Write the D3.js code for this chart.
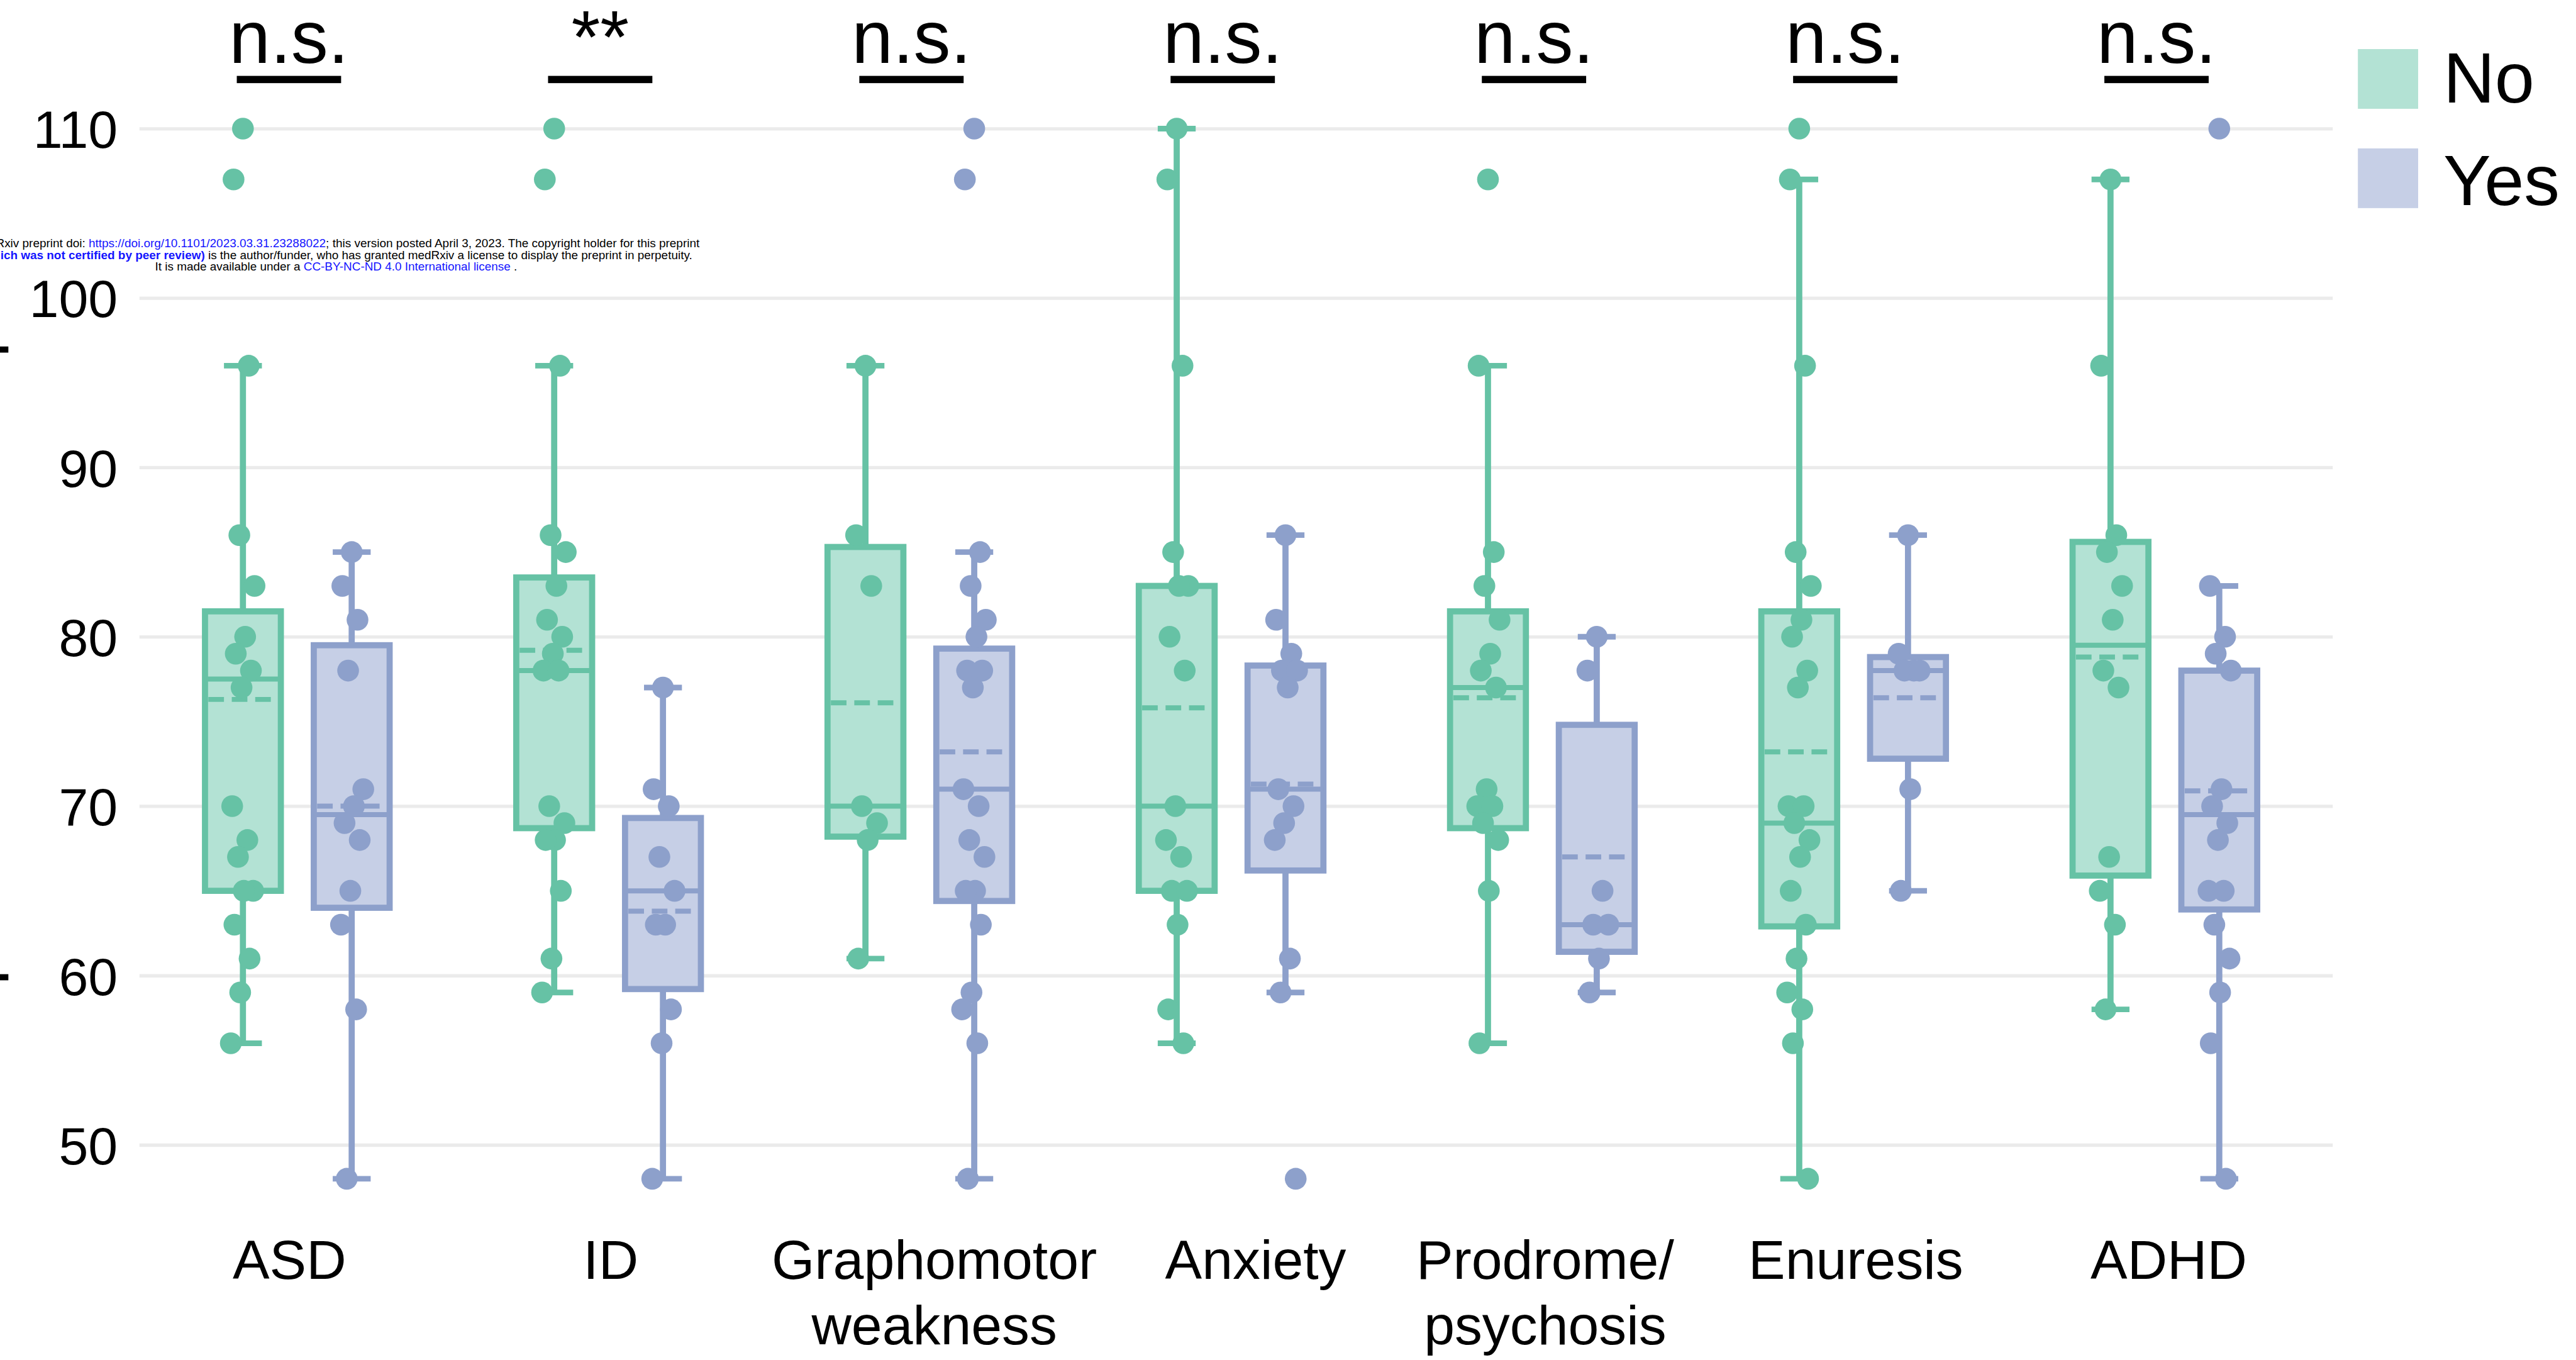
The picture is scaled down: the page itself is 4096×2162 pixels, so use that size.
<!DOCTYPE html>
<html>
<head>
<meta charset="utf-8">
<script src="https://cdn.jsdelivr.net/npm/d3@7"></script>
<style>
  html, body { margin: 0; padding: 0; background: #ffffff; }
  svg { display: block; }
  text { font-family: "Liberation Sans", Arial, Helvetica, sans-serif; }
</style>
</head>
<body>
<script>
// ---- data ----
const categories = ["ASD", "ID", "Graphomotor weakness", "Anxiety", "Prodrome/ psychosis", "Enuresis", "ADHD"];
const categoryLines = [["ASD"], ["ID"], ["Graphomotor", "weakness"], ["Anxiety"], ["Prodrome/", "psychosis"], ["Enuresis"], ["ADHD"]];
const groups = ["No", "Yes"];
const significance = ["n.s.", "**", "n.s.", "n.s.", "n.s.", "n.s.", "n.s."];
const yTicks = [50, 60, 70, 80, 90, 100, 110];

// box statistics per category (No group)
const noLower  = [56, 59, 61, 56, 56, 48, 58];
const noQ1     = [65, 68.7, 68.2, 65, 68.7, 62.9, 65.9];
const noMedian = [77.5, 78, 70, 70, 77, 69, 79.5];
const noQ3     = [81.5, 83.5, 85.3, 83, 81.5, 81.5, 85.6];
const noUpper  = [96, 96, 96, 110, 96, 107, 107];
const noMean   = [76.3, 79.2, 76.1, 75.8, 76.4, 73.2, 78.8];

// box statistics per category (Yes group)
const yesLower  = [48, 48, 48, 59, 59, 65, 48];
const yesQ1     = [64, 59.2, 64.4, 66.2, 61.4, 72.8, 63.9];
const yesMedian = [69.5, 65, 71, 71, 63, 78, 69.5];
const yesQ3     = [79.5, 69.3, 79.3, 78.3, 74.8, 78.8, 78];
const yesUpper  = [85, 77, 85, 86, 80, 86, 83];
const yesMean   = [70, 63.8, 73.2, 71.3, 67, 76.4, 70.9];

// individual scores per category
const noPoints = [
  [110, 107, 96, 86, 83, 80, 79, 78, 77, 70, 68, 67, 65, 65, 63, 61, 59, 56],
  [110, 107, 96, 86, 85, 83, 81, 80, 79, 78, 78, 70, 69, 68, 68, 65, 61, 59],
  [96, 86, 83, 70, 69, 68, 61],
  [110, 107, 96, 85, 83, 83, 80, 78, 70, 68, 67, 65, 65, 63, 58, 56],
  [107, 96, 85, 83, 81, 79, 78, 77, 71, 70, 70, 69, 68, 65, 56],
  [110, 107, 96, 85, 83, 81, 80, 78, 77, 70, 70, 69, 68, 67, 65, 63, 61, 59, 58, 56, 48],
  [107, 96, 86, 85, 83, 81, 78, 77, 67, 65, 63, 58]
];
const yesPoints = [
  [85, 83, 81, 78, 71, 70, 69, 68, 65, 63, 58, 48],
  [77, 71, 70, 67, 65, 63, 63, 58, 56, 48],
  [110, 107, 85, 83, 81, 80, 78, 78, 77, 71, 70, 68, 67, 65, 65, 63, 59, 58, 56, 48],
  [86, 81, 79, 78, 78, 77, 71, 70, 69, 68, 61, 59, 48],
  [80, 78, 65, 63, 63, 61, 59],
  [86, 79, 78, 78, 78, 71, 65],
  [110, 83, 80, 79, 78, 71, 70, 69, 68, 65, 65, 63, 61, 59, 56, 48]
];

// ---- layout (drawn in a 4618 x 2438 frame, scaled to the window) ----
const W = 4096, H = 2162;
const FW = 4618, FH = 2438;
const k = W / FW;

const lineColor = { No: "#66c2a5", Yes: "#8da0cb" };
const fillColor = { No: "#b3e2d4", Yes: "#c6cfe6" };
const labelNudge = [-14, 4, 26, 44, 5, 4, 7];

const svg = d3.select("body").append("svg")
  .attr("width", W).attr("height", H)
  .attr("viewBox", `0 0 ${W} ${H}`);
const root = svg.append("g").attr("transform", `scale(${k})`);

const y = d3.scaleLinear().domain([50, 110]).range([2052, 230.5]);
const x = d3.scalePoint().domain(categories).range([533, 3881]);
const xg = d3.scalePoint().domain(groups).range([-97.5, 97.5]);

const plotLeft = 250, plotRight = 4182;

// gridlines
const grid = root.append("g").attr("transform", `translate(${plotLeft},0)`)
  .call(d3.axisRight(y).tickValues(yTicks).tickSize(plotRight - plotLeft).tickFormat(""));
grid.select(".domain").remove();
grid.selectAll(".tick line").attr("stroke", "#ebebeb").attr("stroke-width", 6);

// y tick labels
const yAxis = root.append("g").attr("transform", `translate(${plotLeft},0)`)
  .call(d3.axisLeft(y).tickValues(yTicks).tickSize(0).tickPadding(39));
yAxis.select(".domain").remove();
yAxis.selectAll(".tick text")
  .attr("font-size", 95)
  .attr("dy", "0.36em")
  .attr("fill", "#000")
  .style("font-family", "'Liberation Sans', Arial, Helvetica, sans-serif");

// page margin marks on the left edge
root.append("rect").attr("x", 0).attr("y", 621).attr("width", 15).attr("height", 11).attr("fill", "#000");
root.append("rect").attr("x", 0).attr("y", 1746).attr("width", 15).attr("height", 11).attr("fill", "#000");

// preprint stamp
const stamp = root.append("g").attr("font-size", 21).attr("text-anchor", "middle");
const stampLines = [
  { y: 443, len: 1303, parts: [
    { t: "medRxiv preprint doi: ", c: "#000" },
    { t: "https://doi.org/10.1101/2023.03.31.23288022", c: "#1515ff" },
    { t: "; this version posted April 3, 2023. The copyright holder for this preprint", c: "#000" }] },
  { y: 464, len: 1277, parts: [
    { t: "(which was not certified by peer review)", c: "#1515ff", b: true },
    { t: " is the author/funder, who has granted medRxiv a license to display the preprint in perpetuity.", c: "#000" }] },
  { y: 485, len: 649, parts: [
    { t: "It is made available under a ", c: "#000" },
    { t: "CC-BY-NC-ND 4.0 International license", c: "#1515ff" },
    { t: " .", c: "#000" }] }
];
stampLines.forEach(L => {
  const t = stamp.append("text").attr("x", 602.5).attr("y", L.y)
    .attr("textLength", L.len).attr("lengthAdjust", "spacingAndGlyphs");
  L.parts.forEach(p => {
    t.append("tspan").text(p.t).attr("fill", p.c).attr("font-weight", p.b ? "bold" : "normal");
  });
});

// assemble per-group records
const stats = { No: [noLower, noQ1, noMedian, noQ3, noUpper, noMean], Yes: [yesLower, yesQ1, yesMedian, yesQ3, yesUpper, yesMean] };
const pts = { No: noPoints, Yes: yesPoints };
const records = [];
categories.forEach((c, i) => {
  groups.forEach(g => {
    const s = stats[g];
    records.push({ cat: c, i, g, lo: s[0][i], q1: s[1][i], med: s[2][i], q3: s[3][i], hi: s[4][i], mean: s[5][i], values: pts[g][i] });
  });
});

const halfBox = 68, halfCap = 34, sw = 11;

const boxes = root.append("g").selectAll("g.box").data(records).join("g")
  .attr("class", "box")
  .attr("transform", d => `translate(${x(d.cat) + xg(d.g)},0)`);

// whiskers
boxes.append("line").attr("x1", 0).attr("x2", 0)
  .attr("y1", d => y(d.q3)).attr("y2", d => y(d.hi))
  .attr("stroke", d => lineColor[d.g]).attr("stroke-width", sw);
boxes.append("line").attr("x1", 0).attr("x2", 0)
  .attr("y1", d => y(d.q1)).attr("y2", d => y(d.lo))
  .attr("stroke", d => lineColor[d.g]).attr("stroke-width", sw);
boxes.append("line").attr("x1", -halfCap).attr("x2", halfCap)
  .attr("y1", d => y(d.hi)).attr("y2", d => y(d.hi))
  .attr("stroke", d => lineColor[d.g]).attr("stroke-width", 10);
boxes.append("line").attr("x1", -halfCap).attr("x2", halfCap)
  .attr("y1", d => y(d.lo)).attr("y2", d => y(d.lo))
  .attr("stroke", d => lineColor[d.g]).attr("stroke-width", 10);

// box body
boxes.append("rect")
  .attr("x", -halfBox).attr("width", 2 * halfBox)
  .attr("y", d => y(d.q3)).attr("height", d => y(d.q1) - y(d.q3))
  .attr("fill", d => fillColor[d.g])
  .attr("stroke", d => lineColor[d.g]).attr("stroke-width", sw);

// median
boxes.append("line").attr("x1", -halfBox).attr("x2", halfBox)
  .attr("y1", d => y(d.med)).attr("y2", d => y(d.med))
  .attr("stroke", d => lineColor[d.g]).attr("stroke-width", 9);

// mean (dashed)
boxes.append("line").attr("x1", -halfBox + 6).attr("x2", halfBox - 6)
  .attr("y1", d => y(d.mean)).attr("y2", d => y(d.mean))
  .attr("stroke", d => lineColor[d.g]).attr("stroke-width", 9)
  .attr("stroke-dasharray", "28,14");

// individual points, spread sideways with a fixed golden-ratio offset pattern
const jitterAmp = 22;
boxes.each(function(d) {
  d3.select(this).selectAll("circle").data(d.values).join("circle")
    .attr("cx", (v, j) => (((j * 0.6180339887 + 0.5) % 1) - 0.5) * 2 * jitterAmp)
    .attr("cy", v => y(v))
    .attr("r", 19.5)
    .attr("fill", lineColor[d.g]);
});

// category labels
const catLabels = root.append("g").attr("font-size", 99).attr("text-anchor", "middle").attr("fill", "#000");
categories.forEach((c, i) => {
  const t = catLabels.append("text").attr("x", x(c) + labelNudge[i]).attr("y", 2292);
  categoryLines[i].forEach((ln, j) => {
    t.append("tspan").attr("x", x(c) + labelNudge[i]).attr("dy", j === 0 ? 0 : 117).text(ln);
  });
});

// significance annotations
const sig = root.append("g");
categories.forEach((c, i) => {
  const cx = x(c) - 15;
  sig.append("rect").attr("x", cx - 93.5).attr("y", 136).attr("width", 187).attr("height", 13).attr("fill", "#000");
  sig.append("text").attr("x", cx).attr("y", 113).attr("text-anchor", "middle")
    .attr("font-size", 133).attr("fill", "#000").text(significance[i]);
});

// legend
const legend = root.append("g");
groups.forEach((g, j) => {
  legend.append("rect").attr("x", 4227).attr("y", 88 + j * 178).attr("width", 108).attr("height", 107)
    .attr("fill", fillColor[g]);
  legend.append("text").attr("x", 4380).attr("y", 184 + j * 184)
    .attr("font-size", 128).attr("fill", "#000").text(g);
});
</script>
</body>
</html>
